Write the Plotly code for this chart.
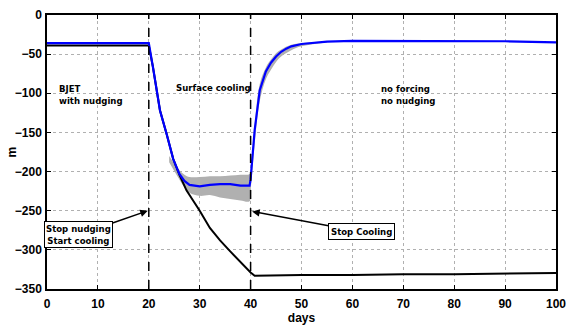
import plotly.graph_objects as go

# ---- data ----
black_days = [0, 20, 20.8, 22.2, 23.5, 24.8, 26, 27.4, 28, 30, 32, 34, 36, 38, 40, 40.8, 50, 60, 70, 80, 90, 100]
black_vals = [-39, -39, -66, -122, -152, -184, -204, -224, -230, -250, -272, -288, -302, -316, -329, -333, -332, -332, -331, -331, -330, -329.5]

blue_days = [0, 20, 20.8, 22.2, 23.5, 24.8, 26, 27, 28, 30, 32, 34, 36, 38, 39.8, 40, 40.8, 41.8, 43, 44, 45, 46, 47, 48, 50, 55, 60, 70, 80, 90, 100]
blue_vals = [-36, -36, -66, -122, -152, -184, -203, -212, -217, -219, -217, -216, -216, -218, -218, -210, -147, -96, -72, -61, -53, -47, -43, -40, -37, -34, -33, -33, -33, -33.5, -35]

band_days = [24, 26, 27, 28, 30, 32, 34, 36, 38, 39.8, 40, 40.8, 41.8, 43, 44, 45, 46, 48, 50, 55]
band_upper = [-180, -198, -204, -207, -207, -206, -206, -205, -204, -203, -198, -140, -88, -67, -57, -49, -44, -38, -36, -33.5]
band_lower = [-188, -210, -220, -227, -231, -230, -233, -235, -237, -238, -225, -165, -110, -82, -70, -60, -53, -45, -40, -35]

x_ticks = [0, 10, 20, 30, 40, 50, 60, 70, 80, 90, 100]
y_ticks = [0, -50, -100, -150, -200, -250, -300, -350]
event_days = [20, 40]

fig = go.Figure()
fig.add_trace(go.Scatter(x=band_days, y=band_lower, mode="lines", line=dict(width=0, color="#b0b0b0", shape="spline"),
                         showlegend=False, hoverinfo="skip"))
fig.add_trace(go.Scatter(x=band_days, y=band_upper, mode="lines", line=dict(width=0, color="#b0b0b0", shape="spline"),
                         fill="tonexty", fillcolor="#b0b0b0", showlegend=False, hoverinfo="skip"))
fig.add_trace(go.Scatter(x=black_days, y=black_vals, mode="lines", line=dict(color="black", width=2),
                         showlegend=False))
fig.add_trace(go.Scatter(x=blue_days, y=blue_vals, mode="lines", line=dict(color="#0000ff", width=2.2),
                         showlegend=False))

for d in event_days:
    fig.add_shape(type="line", x0=d, x1=d, y0=0, y1=1, xref="x", yref="paper",
                  line=dict(color="black", width=1.5, dash="dash"))

narrow = "DejaVu Sans Condensed, Liberation Sans, sans-serif"
fnt = dict(family=narrow, size=9.5, color="black", weight="bold")
labfont = dict(family="Liberation Sans, Arial, sans-serif", size=12, color="black", weight="bold")

fig.add_annotation(x=2, y=-101, text="BJET<br>with nudging", showarrow=False, xanchor="left",
                   align="left", font=fnt)
fig.add_annotation(x=24.9, y=-92, text="Surface cooling", showarrow=False, xanchor="left",
                   align="left", font=fnt)
fig.add_annotation(x=65.3, y=-101, text="no forcing<br>no nudging", showarrow=False, xanchor="left",
                   align="left", font=fnt)
fig.add_annotation(x=19.8, y=-250, ax=6.2, ay=-281, axref="x", ayref="y", text="Stop nudging<br>Start cooling",
                   showarrow=True, arrowhead=2, arrowsize=1, arrowwidth=1.5, arrowcolor="black",
                   bordercolor="black", borderwidth=1, borderpad=1, bgcolor="white", font=fnt, align="center")
fig.add_annotation(x=40.3, y=-251, ax=61.8, ay=-277, axref="x", ayref="y", text="Stop Cooling",
                   showarrow=True, arrowhead=2, arrowsize=1, arrowwidth=1.5, arrowcolor="black",
                   bordercolor="black", borderwidth=1, borderpad=2, bgcolor="white", font=fnt, align="center")
# y-axis title placed as rotated text
fig.add_annotation(x=-0.068, y=0.5, xref="paper", yref="paper", text="m", textangle=-90,
                   showarrow=False, xanchor="center", yanchor="middle", font=labfont)

axis_common = dict(showline=True, linecolor="black", linewidth=1.5, mirror="ticks", ticks="inside",
                   ticklen=4, tickcolor="black", tickwidth=1, showgrid=True, gridcolor="#b0b0b0",
                   griddash="dot", gridwidth=1, zeroline=False, tickfont=labfont, automargin=False,
                   ticklabeloverflow="allow")

fig.update_xaxes(range=[0, 100], tickvals=x_ticks, ticklabelstandoff=3,
                 title=dict(text="days", font=labfont, standoff=2),
                 **axis_common)
fig.update_yaxes(range=[-350, 0], tickvals=y_ticks, ticklabelstandoff=1,
                 **axis_common)

fig.update_layout(width=566, height=325, margin=dict(l=47, r=10, t=15, b=36),
                  paper_bgcolor="white", plot_bgcolor="white")

fig.write_html("out.html")
